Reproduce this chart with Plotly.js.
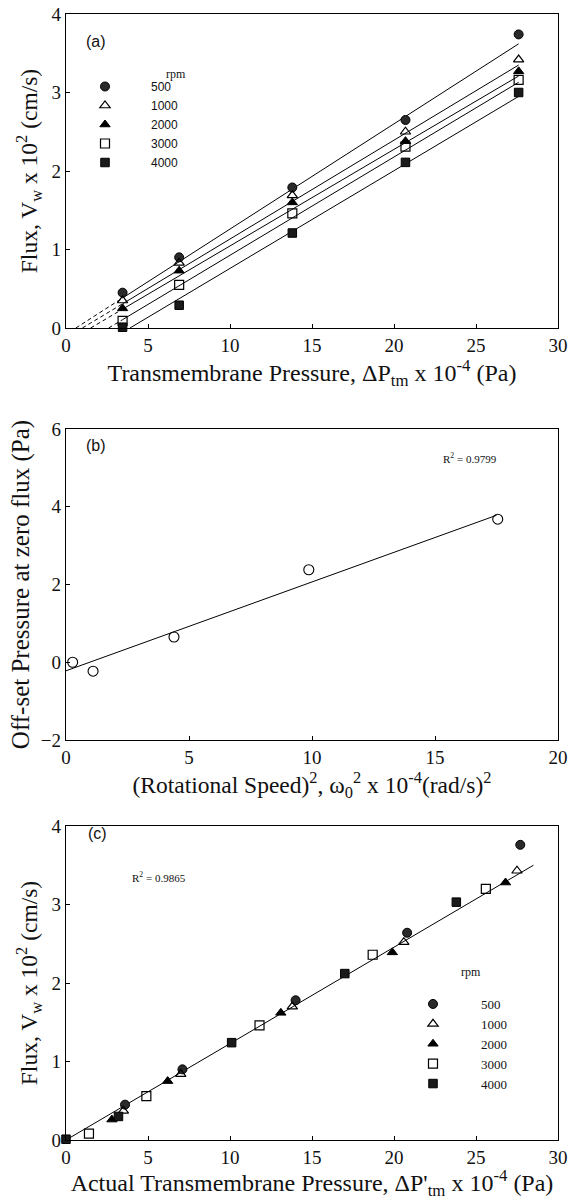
<!DOCTYPE html>
<html>
<head>
<meta charset="utf-8">
<script src="https://cdn.plot.ly/plotly-3.0.1.min.js"></script>
<style>html,body{margin:0;padding:0;background:#fff}#chart{width:574px;height:1200px}</style>
</head>
<body>
<div id="chart"></div>
<script>
// ---------- data ----------
const rpmLabels = ['500', '1000', '2000', '3000', '4000'];

// (a) flux vs transmembrane pressure
const pressureA = [3.45, 6.9, 13.8, 20.7, 27.6];
const fluxA500  = [0.45, 0.90, 1.79, 2.65, 3.74];
const fluxA1000 = [0.35, 0.83, 1.69, 2.50, 3.42];
const fluxA2000 = [0.25, 0.73, 1.60, 2.38, 3.27];
const fluxA3000 = [0.09, 0.55, 1.46, 2.31, 3.16];
const fluxA4000 = [0.01, 0.29, 1.21, 2.11, 3.00];
// fitted lines (a): x-intercept and value at the last pressure
const fitAIntercept = [0.6, 1.0, 1.5, 2.6, 3.9];
const fitAEndX = 27.6;
const fitAEndY = [3.62, 3.35, 3.21, 3.13, 2.95];

// (b) offset pressure vs rotational speed squared
const omegaSq = [0.27, 1.10, 4.39, 9.87, 17.55];
const offsetP = [0.0, -0.23, 0.65, 2.38, 3.68];
const fitBX = [0, 17.5];
const fitBY = [-0.22, 3.78];

// (c) flux vs actual transmembrane pressure
const actualP500  = [3.6, 7.1, 14.0, 20.8, 27.7];
const fluxC500    = [0.45, 0.90, 1.78, 2.64, 3.76];
const actualP1000 = [3.5, 7.0, 13.8, 20.6, 27.5];
const fluxC1000   = [0.37, 0.84, 1.70, 2.52, 3.43];
const actualP2000 = [2.8, 6.2, 13.1, 19.9, 26.8];
const fluxC2000   = [0.26, 0.75, 1.62, 2.39, 3.28];
const actualP3000 = [1.4, 4.9, 11.8, 18.7, 25.6];
const fluxC3000   = [0.08, 0.56, 1.46, 2.36, 3.20];
const actualP4000 = [0.0, 3.2, 10.1, 17.0, 23.8];
const fluxC4000   = [0.01, 0.30, 1.24, 2.12, 3.03];
const fitCX = [0, 28.5];
const fitCY = [0, 3.5];

// ---------- styles ----------
const W = 574, H = 1200;
const px = v => v / W;
const py = v => 1 - v / H;
const serif = 'Liberation Serif, Times New Roman, serif';
const sans = 'Liberation Sans, Arial, sans-serif';
const markerStyles = [
  {symbol: 'circle', color: '#2a2a2a', size: 9, line: {color: '#000', width: 1}},
  {symbol: 'triangle-up-open', color: '#000', size: 9, line: {color: '#000', width: 1.2}},
  {symbol: 'triangle-up', color: '#000', size: 9, line: {color: '#000', width: 1}},
  {symbol: 'square-open', color: '#000', size: 9, line: {color: '#000', width: 1.2}},
  {symbol: 'square', color: '#1a1a1a', size: 8.5, line: {color: '#000', width: 1}}
];

const fluxA = [fluxA500, fluxA1000, fluxA2000, fluxA3000, fluxA4000];
const actualC = [actualP500, actualP1000, actualP2000, actualP3000, actualP4000];
const fluxC = [fluxC500, fluxC1000, fluxC2000, fluxC3000, fluxC4000];

const traces = [];
// (a) fitted lines
for (let i = 0; i < 5; i++) {
  const x0 = fitAIntercept[i];
  const firstX = pressureA[0];
  if (x0 < firstX) {
    const yAtFirst = fitAEndY[i] * (firstX - x0) / (fitAEndX - x0);
    traces.push({x: [x0, firstX], y: [0, yAtFirst], mode: 'lines', xaxis: 'x', yaxis: 'y',
      line: {color: '#000', width: 1, dash: '4px,3px'}, showlegend: false, hoverinfo: 'skip'});
    traces.push({x: [firstX, fitAEndX], y: [yAtFirst, fitAEndY[i]], mode: 'lines', xaxis: 'x', yaxis: 'y',
      line: {color: '#000', width: 1}, showlegend: false, hoverinfo: 'skip'});
  } else {
    traces.push({x: [x0, fitAEndX], y: [0, fitAEndY[i]], mode: 'lines', xaxis: 'x', yaxis: 'y',
      line: {color: '#000', width: 1}, showlegend: false, hoverinfo: 'skip'});
  }
}
// (a) markers
for (let i = 0; i < 5; i++) {
  traces.push({x: pressureA, y: fluxA[i], name: rpmLabels[i], mode: 'markers', xaxis: 'x', yaxis: 'y',
    marker: markerStyles[i], legend: 'legend', cliponaxis: false});
}
// (b)
traces.push({x: fitBX, y: fitBY, mode: 'lines', xaxis: 'x2', yaxis: 'y2',
  line: {color: '#000', width: 1}, showlegend: false});
traces.push({x: omegaSq, y: offsetP, mode: 'markers', xaxis: 'x2', yaxis: 'y2', showlegend: false,
  marker: {symbol: 'circle-open', size: 10, color: '#000', line: {width: 1.1}}, cliponaxis: false});
// (c)
traces.push({x: fitCX, y: fitCY, mode: 'lines', xaxis: 'x3', yaxis: 'y3',
  line: {color: '#000', width: 1}, showlegend: false});
for (let i = 0; i < 5; i++) {
  traces.push({x: actualC[i], y: fluxC[i], name: rpmLabels[i], mode: 'markers', xaxis: 'x3', yaxis: 'y3',
    marker: markerStyles[i], legend: 'legend2', cliponaxis: false});
}

const xDom = [px(66), px(558)];
function axisBase(extra) {
  return Object.assign({
    showgrid: false, zeroline: false, showline: true, linecolor: '#000', linewidth: 1.3, mirror: true,
    ticks: 'inside', ticklen: 4, tickcolor: '#000', tickwidth: 1,
    tickfont: {family: serif, size: 19, color: '#111'}, fixedrange: true
  }, extra);
}
const titleFont = s => ({family: serif, size: s, color: '#111'});

const layout = {
  width: W, height: H, margin: {l: 0, r: 0, t: 0, b: 0},
  paper_bgcolor: '#fff', plot_bgcolor: '#fff', showlegend: true,
  xaxis: axisBase({domain: xDom, range: [0, 30], dtick: 5, anchor: 'y',
    title: {text: 'Transmembrane Pressure, ΔP<sub>tm</sub> x 10<sup>-4</sup> (Pa)', font: titleFont(24), standoff: 3}}),
  yaxis: axisBase({domain: [py(328), py(14)], range: [0, 4], dtick: 1, anchor: 'x',
    title: {text: 'Flux, V<sub>w</sub> x 10<sup>2</sup> (cm/s)', font: titleFont(23.5), standoff: 7}}),
  xaxis2: axisBase({domain: xDom, range: [0, 20], dtick: 5, anchor: 'y2',
    title: {text: '(Rotational Speed)<sup>2</sup>, ω<sub>0</sub><sup>2</sup> x 10<sup>-4</sup>(rad/s)<sup>2</sup>', font: titleFont(23.5), standoff: 6}}),
  yaxis2: axisBase({domain: [py(740), py(429)], range: [-2, 6], dtick: 2, anchor: 'x2',
    title: {text: 'Off-set Pressure at zero flux (Pa)', font: titleFont(25), standoff: 4}}),
  xaxis3: axisBase({domain: xDom, range: [0, 30], dtick: 5, anchor: 'y3',
    title: {text: "Actual Transmembrane Pressure, ΔP'<sub>tm</sub> x 10<sup>-4</sup> (Pa)", font: titleFont(24), standoff: 0}}),
  yaxis3: axisBase({domain: [py(1140), py(826)], range: [0, 4], dtick: 1, anchor: 'x3',
    title: {text: 'Flux, V<sub>w</sub> x 10<sup>2</sup> (cm/s)', font: titleFont(23.5), standoff: 7}}),
  legend: {x: px(59), y: py(72), xanchor: 'left', yanchor: 'top', bgcolor: 'rgba(0,0,0,0)',
    font: {family: sans, size: 12, color: '#111'}, itemwidth: 82, tracegroupgap: 0},
  legend2: {x: px(385), y: py(989), xanchor: 'left', yanchor: 'top', bgcolor: 'rgba(0,0,0,0)',
    font: {family: serif, size: 13, color: '#111'}, itemwidth: 86, tracegroupgap: 0},
  annotations: [
    {text: '(a)', x: px(84), y: py(31), xref: 'paper', yref: 'paper', showarrow: false, font: {family: sans, size: 16, color: '#111'}},
    {text: 'rpm', x: px(164), y: py(65), xref: 'paper', yref: 'paper', showarrow: false, font: {family: serif, size: 12, color: '#111'}},
    {text: '(b)', x: px(84), y: py(446), xref: 'paper', yref: 'paper', showarrow: false, font: {family: sans, size: 16, color: '#111'}},
    {text: 'R<sup>2</sup> = 0.9799', x: px(499), y: py(458), xref: 'paper', yref: 'paper', showarrow: false, font: {family: serif, size: 11, color: '#111'}},
    {text: '(c)', x: px(86), y: py(844), xref: 'paper', yref: 'paper', showarrow: false, font: {family: sans, size: 16, color: '#111'}},
    {text: 'R<sup>2</sup> = 0.9865', x: px(130), y: py(886), xref: 'paper', yref: 'paper', showarrow: false, font: {family: serif, size: 11, color: '#111'}},
    {text: 'rpm', x: px(483), y: py(981), xref: 'paper', yref: 'paper', showarrow: false, font: {family: serif, size: 12, color: '#111'}}
  ]
};

Plotly.newPlot('chart', traces, layout, {staticPlot: true, displayModeBar: false});
</script>
</body>
</html>
